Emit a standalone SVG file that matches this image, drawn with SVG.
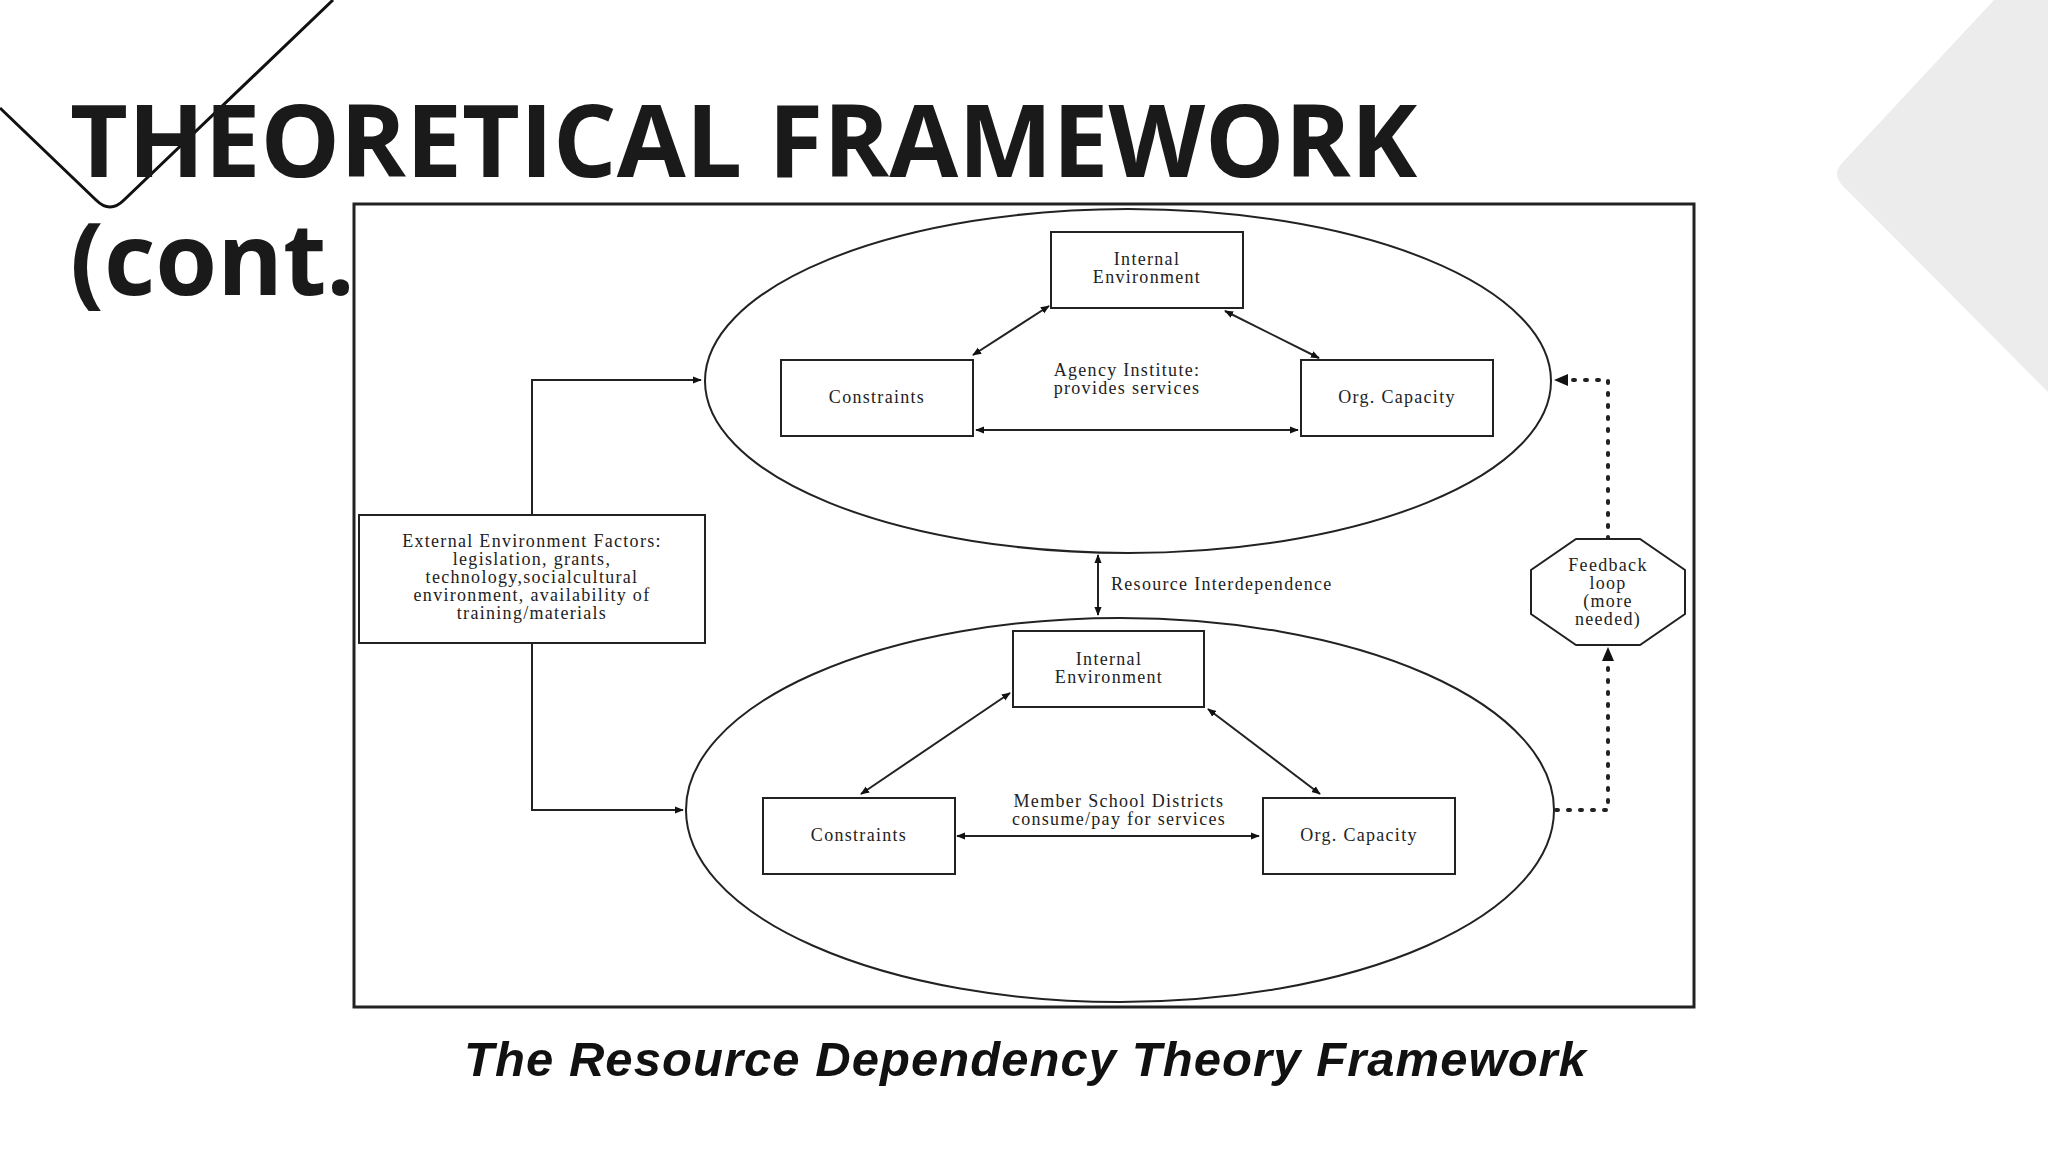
<svg xmlns="http://www.w3.org/2000/svg" width="2048" height="1152" viewBox="0 0 2048 1152">
<defs>
<marker id="ah" viewBox="0 0 10 10" refX="9" refY="5" markerWidth="9" markerHeight="9" markerUnits="userSpaceOnUse" orient="auto-start-reverse"><path d="M0,1 L10,5 L0,9 z" fill="#111"/></marker>
<style>
.t{font-family:"Liberation Serif",serif;font-size:18px;fill:#222;text-anchor:middle;letter-spacing:1.3px}
.b{fill:#fff;stroke:#222;stroke-width:2}
.c{fill:none;stroke:#222;stroke-width:2}
.d{fill:none;stroke:#222;stroke-width:4;stroke-dasharray:2 10;stroke-linecap:round}
</style>
</defs>
<rect width="2048" height="1152" fill="#fff"/>
<path d="M1994,0 L2048,0 L2048,392 L1843,186 Q1831,174 1843,162 Z" fill="#ececec"/>
<path d="M0,108 L96,200 Q110,214 124,200 L333,0" fill="none" stroke="#111" stroke-width="3"/>
<g font-family="'Open Sans',sans-serif" font-weight="bold" font-size="100" fill="#1a1a1a">
<text x="70" y="177">THEORETICAL FRAMEWORK</text>
<text x="70" y="295">(cont.)</text>
</g>
<rect x="354" y="204" width="1340" height="803" fill="#fff" stroke="#222" stroke-width="3"/>
<g id="connectors">
<ellipse class="c" cx="1128" cy="381" rx="423" ry="172"/>
<ellipse class="c" cx="1120" cy="810" rx="434" ry="192"/>
<line class="c" x1="973" y1="355" x2="1049" y2="306" marker-start="url(#ah)" marker-end="url(#ah)"/>
<line class="c" x1="1225" y1="311" x2="1319" y2="358" marker-start="url(#ah)" marker-end="url(#ah)"/>
<line class="c" x1="976" y1="430" x2="1298" y2="430" marker-start="url(#ah)" marker-end="url(#ah)"/>
<line class="c" x1="1010" y1="693" x2="861" y2="794" marker-start="url(#ah)" marker-end="url(#ah)"/>
<line class="c" x1="1208" y1="709" x2="1320" y2="794" marker-start="url(#ah)" marker-end="url(#ah)"/>
<line class="c" x1="957" y1="836" x2="1259" y2="836" marker-start="url(#ah)" marker-end="url(#ah)"/>
<line class="c" x1="1098" y1="555" x2="1098" y2="615" stroke-width="3" marker-start="url(#ah)" marker-end="url(#ah)"/>
<path class="c" d="M532,515 V380 H701" marker-end="url(#ah)"/>
<path class="c" d="M532,643 V810 H683" marker-end="url(#ah)"/>
<path class="d" d="M1608,539 V380 H1566"/>
<path d="M1554,380 l14,-6 v12 z" fill="#111"/>
<path class="d" d="M1556,810 H1608 V660"/>
<path d="M1608,647 l-6,14 h12 z" fill="#111"/>
</g>
<text class="t" x="1111" y="590" style="text-anchor:start">Resource Interdependence</text>
<text class="t" x="1127" y="376">Agency Institute:</text>
<text class="t" x="1127" y="394">provides services</text>
<text class="t" x="1119" y="807">Member School Districts</text>
<text class="t" x="1119" y="825">consume/pay for services</text>
<g id="ie1"><rect class="b" x="1051" y="232" width="192" height="76"/><text class="t" x="1147" y="265">Internal</text><text class="t" x="1147" y="283">Environment</text></g>
<g id="con1"><rect class="b" x="781" y="360" width="192" height="76"/><text class="t" x="877" y="403">Constraints</text></g>
<g id="org1"><rect class="b" x="1301" y="360" width="192" height="76"/><text class="t" x="1397" y="403">Org. Capacity</text></g>
<g id="ie2"><rect class="b" x="1013" y="631" width="191" height="76"/><text class="t" x="1109" y="665">Internal</text><text class="t" x="1109" y="683">Environment</text></g>
<g id="con2"><rect class="b" x="763" y="798" width="192" height="76"/><text class="t" x="859" y="841">Constraints</text></g>
<g id="org2"><rect class="b" x="1263" y="798" width="192" height="76"/><text class="t" x="1359" y="841">Org. Capacity</text></g>
<g id="ext"><rect class="b" x="359" y="515" width="346" height="128"/>
<text class="t" x="532" y="547">External Environment Factors:</text>
<text class="t" x="532" y="565">legislation, grants,</text>
<text class="t" x="532" y="583">technology,socialcultural</text>
<text class="t" x="532" y="601">environment, availability of</text>
<text class="t" x="532" y="619">training/materials</text></g>
<g id="fb"><polygon class="b" points="1576,539 1640,539 1685,570 1685,614 1640,645 1576,645 1531,614 1531,570"/>
<text class="t" x="1608" y="571">Feedback</text><text class="t" x="1608" y="589">loop</text><text class="t" x="1608" y="607">(more</text><text class="t" x="1608" y="625">needed)</text></g>
<text x="1025" y="1076" font-family="'Liberation Sans',sans-serif" font-weight="bold" font-style="italic" font-size="49" fill="#111" text-anchor="middle" textLength="1122">The Resource Dependency Theory Framework</text>
</svg>
